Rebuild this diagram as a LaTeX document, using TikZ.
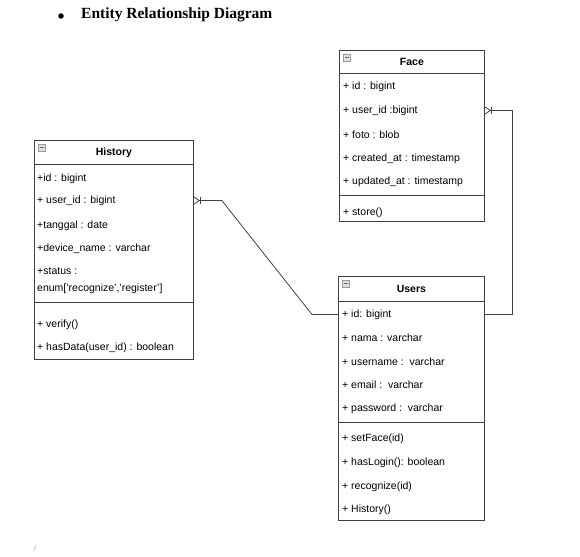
\documentclass[tikz,border=0pt]{standalone}
\usepackage{fontspec}
\setmainfont{Liberation Serif}
\setsansfont{Liberation Sans}
\usetikzlibrary{arrows.meta,positioning}

\begin{document}
\begin{tikzpicture}[x=1pt,y=-1pt,
  entity/.style={draw=black!75,anchor=north west,inner sep=0pt,line width=0.8pt},
  sep/.style={draw=black!75,line width=0.8pt},
  head/.style={font=\sffamily\bfseries\fontsize{10.5}{12}\selectfont,inner sep=0pt},
  attr/.style={anchor=west,font=\sffamily\fontsize{10.5}{12}\selectfont,inner sep=0pt,yshift=-1.5pt},
  icon/.style={draw=black!40,fill=black!12,minimum size=7pt,inner sep=0pt,anchor=north west,
    font=\fontsize{4}{4}\selectfont},
  rel/.style={draw=black!75,line width=0.8pt},
  many/.style={{Straight Barb[reversed,length=5pt,width=7pt]Bar[width=7pt]}-}]
\useasboundingbox (0,0) rectangle (580,556);

% title
\node[circle,fill=black,minimum size=5.5pt,inner sep=0pt] (bullet) at (61,16) {};
\node[anchor=west,inner sep=0pt,font=\bfseries\fontsize{15.5}{18}\selectfont] (title) at (81,15) {Entity Relationship Diagram};

% Face
\node[entity,minimum width=145pt,minimum height=171pt] (face) at (339,50) {};
\draw[sep] ([yshift=-23pt]face.north west) -- ([yshift=-23pt]face.north east);
\draw[sep] ([yshift=-145pt]face.north west) -- ([yshift=-145pt]face.north east);
\node[icon] (faceicon) at (343,54) {\color{black!60}\rule{4pt}{1.2pt}};
\node[head,below=8pt of face.north] (facename) {Face};
\node[attr] (faceid) at (343,85) {+ id : bigint};
\node[attr] (faceuser) at (343,109) {+ user\_id :bigint};
\node[attr] (facefoto) at (343,133) {+ foto : blob};
\node[attr] (facecreated) at (343,157) {+ created\_at : timestamp};
\node[attr] (faceupdated) at (343,180) {+ updated\_at : timestamp};
\node[attr] (facestore) at (343,211) {+ store()};

% History
\node[entity,minimum width=159pt,minimum height=219pt] (history) at (34,140) {};
\draw[sep] ([yshift=-24pt]history.north west) -- ([yshift=-24pt]history.north east);
\draw[sep] ([yshift=-162pt]history.north west) -- ([yshift=-162pt]history.north east);
\node[icon] (histicon) at (38,144) {\color{black!60}\rule{4pt}{1.2pt}};
\node[head,below=8pt of history.north] (histname) {History};
\node[attr] (histid) at (37,177) {+id : bigint};
\node[attr] (histuser) at (37,199) {+ user\_id : bigint};
\node[attr] (histdate) at (37,224) {+tanggal : date};
\node[attr] (histdevice) at (37,247) {+device\_name : varchar};
\node[attr] (histstatus) at (37,270) {+status :};
\node[attr] (histenum) at (37,287) {enum['recognize','register']};
\node[attr] (histverify) at (37,323) {+ verify()};
\node[attr] (histhas) at (37,346) {+ hasData(user\_id) : boolean};

% Users
\node[entity,minimum width=146pt,minimum height=244pt] (users) at (338,276) {};
\draw[sep] ([yshift=-25pt]users.north west) -- ([yshift=-25pt]users.north east);
\draw[sep] ([yshift=-146pt]users.north west) -- ([yshift=-146pt]users.north east);
\node[icon] (usericon) at (342,280) {\color{black!60}\rule{4pt}{1.2pt}};
\node[head,below=9pt of users.north] (username) {Users};
\node[attr] (userid) at (342,313) {+ id: bigint};
\node[attr] (usernama) at (342,336) {+ nama : varchar};
\node[attr] (useruname) at (342,360) {+ username :\ \ varchar};
\node[attr] (useremail) at (342,383) {+ email :\ \ varchar};
\node[attr] (userpass) at (342,407) {+ password :\ \ varchar};
\node[attr] (userface) at (342,437) {+ setFace(id)};
\node[attr] (userlogin) at (342,461) {+ hasLogin(): boolean};
\node[attr] (userrecog) at (342,485) {+ recognize(id)};
\node[attr] (userhist) at (342,508) {+ History()};

\node[text=black!30,font=\sffamily\fontsize{9}{9}\selectfont] (mark) at (35,548) {/};

% relations
\coordinate (histlink) at (history.east |- histuser);
\coordinate (facelink) at (face.east |- faceuser);
\coordinate (userleft) at (users.west |- userid);
\coordinate (userright) at (users.east |- userid);
\draw[rel,many] (histlink) -- ++(28,0) -- ([xshift=-26pt]userleft) -- (userleft);
\draw[rel,many] (facelink) -- ++(28,0) |- (userright);
\end{tikzpicture}
\end{document}
